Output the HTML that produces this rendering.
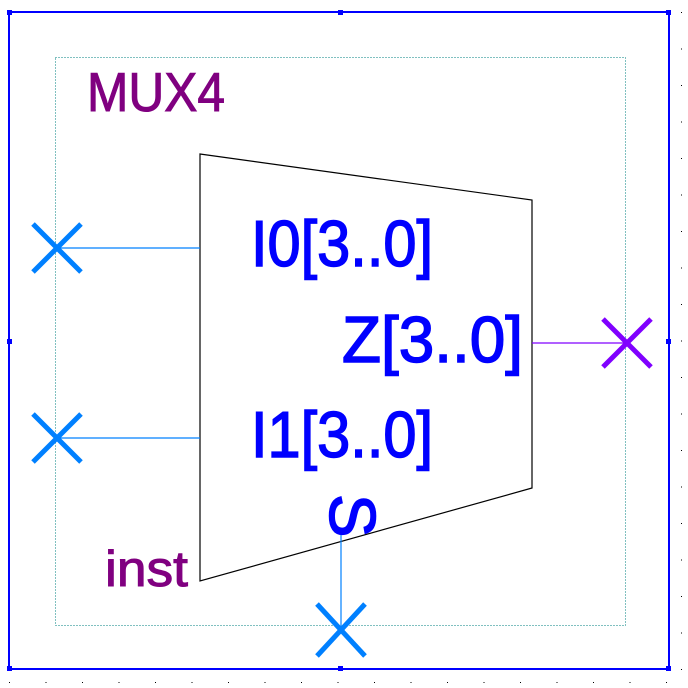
<!DOCTYPE html>
<html><head><meta charset="utf-8"><style>
html,body{margin:0;padding:0;background:#fff;width:688px;height:688px;overflow:hidden}
svg{display:block}
text{font-family:"Liberation Sans",Arial,sans-serif}
</style></head><body>
<svg width="688" height="688" viewBox="0 0 688 688">
  <g id="dots"></g>
  <rect x="9" y="12" width="660" height="657" fill="none" stroke="#0000ff" stroke-width="2"/>
  <g fill="#0000ff">
    <rect x="7" y="10" width="5" height="5"/><rect x="338" y="10" width="5" height="5"/><rect x="666" y="10" width="5" height="5"/>
    <rect x="7" y="339" width="5" height="5"/><rect x="666" y="339" width="5" height="5"/>
    <rect x="7" y="666" width="5" height="5"/><rect x="338" y="666" width="5" height="5"/><rect x="666" y="666" width="5" height="5"/>
  </g>
  <rect x="55.5" y="57.5" width="570" height="568" fill="none" stroke="#008080" stroke-width="1" stroke-dasharray="1,2"/>
  <text x="87" y="111" font-size="55" fill="#800080" stroke="#800080" stroke-width="1" textLength="138" lengthAdjust="spacingAndGlyphs">MUX4</text>
  <text x="105" y="586" font-size="50" fill="#800080" stroke="#800080" stroke-width="1" textLength="83" lengthAdjust="spacingAndGlyphs">inst</text>
  <polygon points="200,154 532,200 532,488 200,581" fill="none" stroke="#000" stroke-width="1.2"/>
  <line x1="57" y1="248" x2="200" y2="248" stroke="#0080ff" stroke-width="1.2"/>
  <line x1="57" y1="438" x2="200" y2="438" stroke="#0080ff" stroke-width="1.2"/>
  <line x1="341" y1="535" x2="341" y2="630" stroke="#0080ff" stroke-width="1.2"/>
  <line x1="532" y1="343" x2="627" y2="343" stroke="#8000ff" stroke-width="1.2"/>
  <g stroke="#0080ff" stroke-width="5"><line x1="33" y1="224" x2="81" y2="272"/><line x1="81" y1="224" x2="33" y2="272"/></g>
  <g stroke="#0080ff" stroke-width="5"><line x1="33" y1="414" x2="81" y2="462"/><line x1="81" y1="414" x2="33" y2="462"/></g>
  <g stroke="#0080ff" stroke-width="5"><line x1="317" y1="604" x2="365" y2="656"/><line x1="365" y1="604" x2="317" y2="656"/></g>
  <g stroke="#8000ff" stroke-width="5"><line x1="603" y1="319" x2="651" y2="367"/><line x1="651" y1="319" x2="603" y2="367"/></g>
  <text x="251" y="266" font-size="65" fill="#0000ff" stroke="#0000ff" stroke-width="1.5" textLength="182" lengthAdjust="spacingAndGlyphs">I0[3..0]</text>
  <text x="342" y="362" font-size="65" fill="#0000ff" stroke="#0000ff" stroke-width="1.5" textLength="181" lengthAdjust="spacingAndGlyphs">Z[3..0]</text>
  <text x="251" y="457" font-size="65" fill="#0000ff" stroke="#0000ff" stroke-width="1.5" textLength="182" lengthAdjust="spacingAndGlyphs">I1[3..0]</text>
  <text x="0" y="0" font-size="65" fill="#0000ff" stroke="#0000ff" stroke-width="1.5" transform="translate(330,494) rotate(90)">S</text>
</svg>
<script>
var g=document.getElementById('dots');
for(var i=0;i<19;i++){
  var x=9+i*36.5;
  var d=document.createElementNS('http://www.w3.org/2000/svg','rect');
  d.setAttribute('x',x);d.setAttribute('y',682);d.setAttribute('width',1);d.setAttribute('height',1);d.setAttribute('fill','#000');
  
  
  g.appendChild(d);
  var e=document.createElementNS('http://www.w3.org/2000/svg','rect');
  e.setAttribute('x',681);e.setAttribute('y',12+i*36.5);e.setAttribute('width',1);e.setAttribute('height',1);e.setAttribute('fill','#000');
  
  
  g.appendChild(e);
}
</script>
</body></html>
